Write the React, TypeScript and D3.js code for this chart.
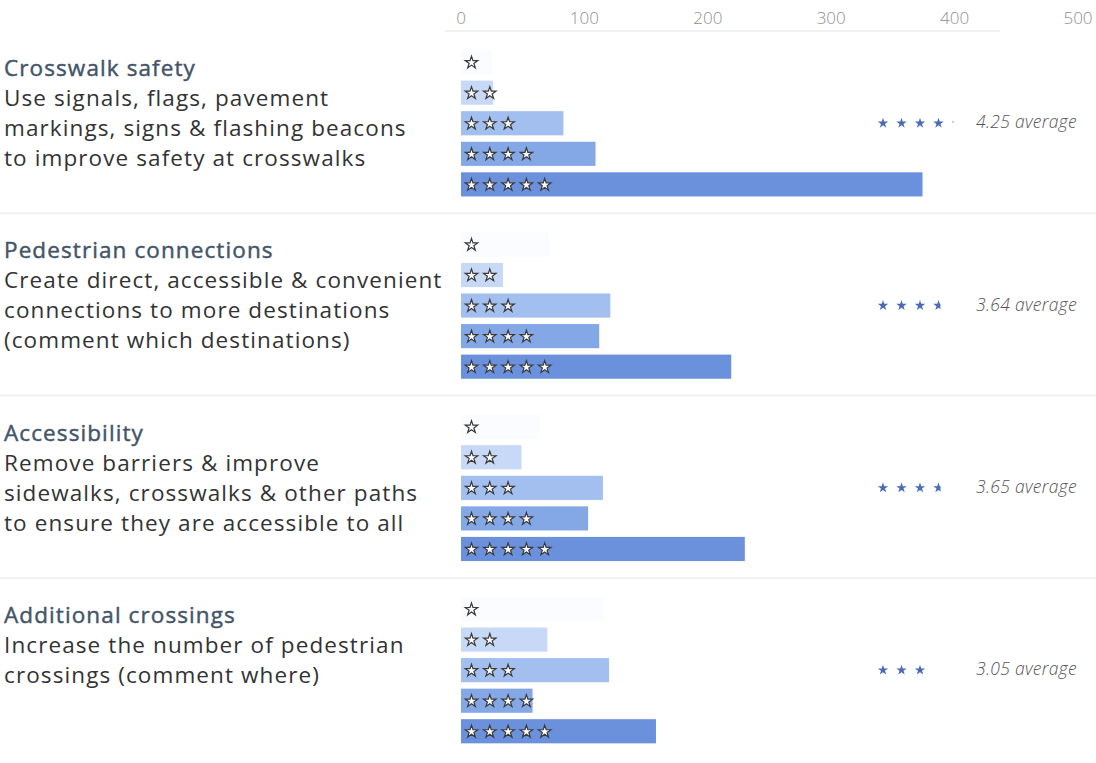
import React from 'react';
import * as d3 from 'd3';

const topics = ['Crosswalk safety', 'Pedestrian connections', 'Accessibility', 'Additional crossings'];
const descriptions = [
  ['Use signals, flags, pavement', 'markings, signs & flashing beacons', 'to improve safety at crosswalks'],
  ['Create direct, accessible & convenient', 'connections to more destinations', '(comment which destinations)'],
  ['Remove barriers & improve', 'sidewalks, crosswalks & other paths', 'to ensure they are accessible to all'],
  ['Increase the number of pedestrian', 'crossings (comment where)'],
];
const starLevels = [1, 2, 3, 4, 5];
// counts per star level, one list per topic
const crosswalkCounts = [25, 26, 83, 109, 374];
const connectionCounts = [72, 34, 121, 112, 219];
const accessCounts = [64, 49, 115, 103, 230];
const crossingCounts = [115, 70, 120, 58, 158];
const counts = [crosswalkCounts, connectionCounts, accessCounts, crossingCounts];
const averages = [4.25, 3.64, 3.65, 3.05];
const axisTicks = [0, 100, 200, 300, 400, 500];

const barColors = ['#fbfcff', '#c7d9f6', '#a3bff0', '#84a7e6', '#6b90dc'];

const W = 1096;
const H = 763;

export default function App() {
  const x = d3.scaleLinear().domain([0, 500]).range([461, 1078]);
  const groupY = d3.scaleBand<number>().domain(d3.range(topics.length)).range([47, 47 + 182.3 * 4]).paddingInner(0);
  const rowY = d3.scaleBand<number>().domain(starLevels).range([0, 152.5]).paddingInner(0.21).paddingOuter(0.1);

  const outlineStar = d3.symbol().type(d3.symbolStar).size(48)() as string;
  const avgStar = d3.symbol().type(d3.symbolStar).size(34)() as string;

  const font = '"Open Sans", "Noto Sans", sans-serif';

  return (
    <svg width={W} height={H} style={{ position: 'absolute', left: 0, top: 0, background: '#fff' }}>
      {/* axis */}
      <g fontFamily={font} fontSize={17} fill="#8f8f8f">
        {axisTicks.map(t => (
          <text key={t} x={x(t)} y={24} textAnchor="middle" fontWeight={300}>{t}</text>
        ))}
      </g>
      <line x1={445} x2={1000} y1={31} y2={31} stroke="#eeeeee" strokeWidth={1.5} />

      {/* separators between topics */}
      {[1, 2, 3].map(i => (
        <line key={i} x1={0} x2={W} y1={(groupY(i) as number) - 16} y2={(groupY(i) as number) - 16} stroke="#f1f1f1" strokeWidth={2} />
      ))}

      {topics.map((topic, gi) => {
        const gy = groupY(gi) as number;
        const avg = averages[gi];
        const avgRowY = gy + (rowY(3) as number) + rowY.bandwidth() / 2;
        return (
          <g key={topic}>
            <text x={4} y={gy + 29} fontFamily={font} fontSize={22.5} fill="#44556a" stroke="#44556a" strokeWidth={0.45} letterSpacing={1.1}>{topic}</text>
            {descriptions[gi].map((line, li) => (
              <text key={li} x={4} y={gy + 59 + li * 30} fontFamily={font} fontSize={22.5} fill="#333" letterSpacing={1.1}>{line}</text>
            ))}

            {counts[gi].map((v, si) => {
              const level = starLevels[si];
              const ry = gy + (rowY(level) as number);
              return (
                <g key={level}>
                  <rect x={x(0)} y={ry} width={x(v) - x(0)} height={rowY.bandwidth()} fill={barColors[si]} />
                  {d3.range(level).map(k => (
                    <path
                      key={k}
                      d={outlineStar}
                      transform={`translate(${x(0) + 10.5 + k * 18.3},${ry + rowY.bandwidth() / 2 + 0.5})`}
                      fill="#ffffff"
                      stroke="#3a3a3a"
                      strokeWidth={1.2}
                    />
                  ))}
                </g>
              );
            })}

            {/* average stars, last one clipped to the fraction */}
            {d3.range(Math.ceil(avg)).map(k => {
              const frac = Math.min(1, avg - k);
              const cx = 883 + k * 18.5;
              return (
                <g key={k} transform={`translate(${cx},${avgRowY})`}>
                  <clipPath id={`c${gi}-${k}`}>
                    <rect x={-7} y={-7} width={14 * frac} height={14} />
                  </clipPath>
                  <path d={avgStar} fill="#4a6bb8" clipPath={`url(#c${gi}-${k})`} />
                </g>
              );
            })}
            <text x={1077} y={avgRowY + 5} textAnchor="end" fontFamily={font} fontSize={17.5} fontStyle="italic" fontWeight={300} fill="#555" letterSpacing={0.3}>
              {`${avg.toFixed(2)} average`}
            </text>
          </g>
        );
      })}
    </svg>
  );
}
